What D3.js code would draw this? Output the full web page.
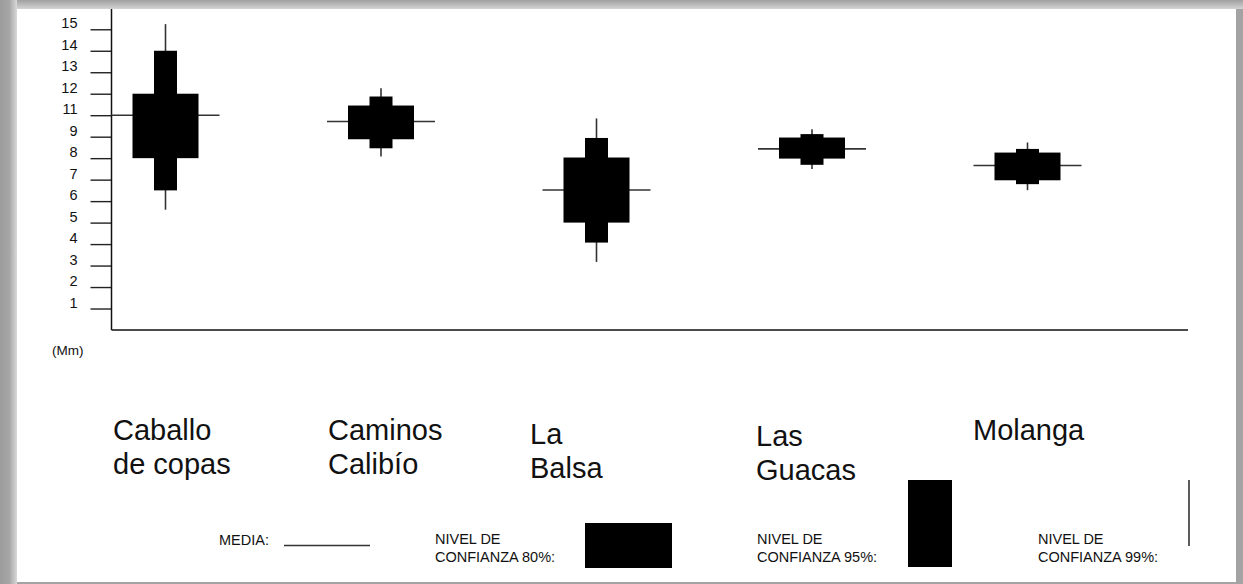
<!DOCTYPE html>
<html>
<head>
<meta charset="utf-8">
<script src="https://cdn.jsdelivr.net/npm/d3@7"></script>
<style>
  html, body { margin: 0; padding: 0; background: #ffffff; }
  svg { display: block; }
  text { font-family: "Liberation Sans", Arial, sans-serif; fill: #111; }
</style>
</head>
<body>
<svg id="chart" width="1243" height="584"></svg>
<script>
// Sitios muestreados (dos líneas por etiqueta)
const categories = ["Caballo de copas", "Caminos Calibío", "La Balsa", "Las Guacas", "Molanga"];
const categoryLines = [["Caballo", "de copas"], ["Caminos", "Calibío"], ["La", "Balsa"], ["Las", "Guacas"], ["Molanga"]];

// Media e intervalos de confianza (Mm)
const media    = [11.0, 10.42, 6.52, 8.43, 7.66];
const ic80Low  = [8.0, 8.88, 5.0, 7.98, 6.97];
const ic80High = [12.0, 11.45, 8.03, 8.96, 8.26];
const ic95Low  = [6.5, 8.46, 4.07, 7.69, 6.79];
const ic95High = [14.0, 11.87, 8.94, 9.24, 8.43];
const ic99Low  = [5.6, 8.08, 3.17, 7.5, 6.51];
const ic99High = [15.24, 12.26, 10.7, 9.7, 8.73];

// Marcas del eje vertical
const tickLabels = [1, 2, 3, 4, 5, 6, 7, 8, 9, 11, 12, 13, 14, 15];

// Leyenda
const legendItems = [
  { lines: ["MEDIA:"], kind: "media" },
  { lines: ["NIVEL DE", "CONFIANZA 80%:"], kind: "ic80" },
  { lines: ["NIVEL DE", "CONFIANZA 95%:"], kind: "ic95" },
  { lines: ["NIVEL DE", "CONFIANZA 99%:"], kind: "ic99" }
];

const svg = d3.select("#chart");
const W = 1243, H = 584;

// Page frame with a soft grey shadow on the left, top and right
const defs = svg.append("defs");
const gl = defs.append("linearGradient").attr("id", "shadeLeft").attr("x1", 0).attr("x2", 1).attr("y1", 0).attr("y2", 0);
gl.append("stop").attr("offset", "0%").attr("stop-color", "#9c9c9c");
gl.append("stop").attr("offset", "55%").attr("stop-color", "#a6a6a6");
gl.append("stop").attr("offset", "100%").attr("stop-color", "#d9d9d9");
const gt = defs.append("linearGradient").attr("id", "shadeTop").attr("x1", 0).attr("x2", 0).attr("y1", 0).attr("y2", 1);
gt.append("stop").attr("offset", "0%").attr("stop-color", "#a0a0a0");
gt.append("stop").attr("offset", "100%").attr("stop-color", "#d4d4d4");

svg.append("rect").attr("width", W).attr("height", H).attr("fill", "#a3a3a3");
svg.append("rect").attr("x", 0).attr("y", 0).attr("width", W).attr("height", 9).attr("fill", "url(#shadeTop)");
svg.append("rect").attr("x", 0).attr("y", 0).attr("width", 17).attr("height", H).attr("fill", "url(#shadeLeft)");
svg.append("rect").attr("x", 17).attr("y", 9).attr("width", 1219).attr("height", 573).attr("fill", "#ffffff");

// Scales
const plotLeft = 111.5, plotRight = 1188, plotBottom = 330, step = 21.48;
const x = d3.scalePoint().domain(categories).range([165.5, 1027.5]);
// The axis skips 10: ticks are evenly spaced and "11" sits at the tenth slot
const y = d3.scaleLinear()
  .domain([0, 9, 11, 15])
  .range([plotBottom, plotBottom - 9 * step, plotBottom - 10 * step, plotBottom - 14 * step]);

// Y axis
const yAxis = d3.axisLeft(y).tickValues(tickLabels).tickFormat(d3.format("d")).tickSize(21).tickPadding(13);
const gy = svg.append("g").attr("transform", `translate(${plotLeft},0)`).call(yAxis);
gy.select(".domain").remove();
gy.selectAll(".tick line").attr("stroke", "#222").attr("stroke-width", 1.4);
gy.selectAll(".tick text")
  .attr("font-size", 14.5)
  .attr("font-family", "Liberation Sans, Arial, sans-serif")
  .attr("fill", "#222")
  .attr("dy", "-0.1em");
svg.append("line").attr("x1", plotLeft).attr("x2", plotLeft).attr("y1", 9).attr("y2", plotBottom)
  .attr("stroke", "#111").attr("stroke-width", 1.5);

// X axis (baseline only)
svg.append("line").attr("x1", plotLeft).attr("x2", plotRight).attr("y1", plotBottom).attr("y2", plotBottom)
  .attr("stroke", "#111").attr("stroke-width", 1.6);

svg.append("text").attr("x", 52).attr("y", 355).attr("font-size", 13.5).attr("fill", "#222").text("(Mm)");

// Glyphs: 99% line, 95% narrow box, 80% wide box, mean line
const rows = categories.map((c, i) => ({
  c, media: media[i],
  l80: ic80Low[i], h80: ic80High[i],
  l95: ic95Low[i], h95: ic95High[i],
  l99: ic99Low[i], h99: ic99High[i]
}));
const w80 = 66, w95 = 23, halfMean = 54;

const g = svg.append("g");
g.selectAll("line.ic99").data(rows).join("line").attr("class", "ic99")
  .attr("x1", d => x(d.c)).attr("x2", d => x(d.c))
  .attr("y1", d => y(d.h99)).attr("y2", d => y(d.l99))
  .attr("stroke", "#333").attr("stroke-width", 1.6);
g.selectAll("line.media").data(rows).join("line").attr("class", "media")
  .attr("x1", d => x(d.c) - halfMean).attr("x2", d => x(d.c) + halfMean)
  .attr("y1", d => y(d.media)).attr("y2", d => y(d.media))
  .attr("stroke", "#333").attr("stroke-width", 1.6);
g.selectAll("rect.ic95").data(rows).join("rect").attr("class", "ic95")
  .attr("x", d => x(d.c) - w95 / 2).attr("width", w95)
  .attr("y", d => y(d.h95)).attr("height", d => y(d.l95) - y(d.h95))
  .attr("fill", "#000");
g.selectAll("rect.ic80").data(rows).join("rect").attr("class", "ic80")
  .attr("x", d => x(d.c) - w80 / 2).attr("width", w80)
  .attr("y", d => y(d.h80)).attr("height", d => y(d.l80) - y(d.h80))
  .attr("fill", "#000");

// Category labels below the chart
const labelX = [113, 328, 530, 756, 973];
const labelY = [440, 440, 444, 446, 440];
const lab = svg.append("g").selectAll("text").data(categoryLines).join("text")
  .attr("x", (d, i) => labelX[i]).attr("y", (d, i) => labelY[i])
  .attr("font-size", 29).attr("fill", "#111");
lab.selectAll("tspan").data(d => d).join("tspan")
  .attr("x", function () { return d3.select(this.parentNode).attr("x"); })
  .attr("dy", (d, j) => j === 0 ? 0 : 34)
  .text(d => d);

// Legend
const legX = [219, 435, 757, 1038];
const leg = svg.append("g");
legendItems.forEach((item, i) => {
  const t = leg.append("text").attr("x", legX[i]).attr("y", item.lines.length === 1 ? 545 : 544)
    .attr("font-size", 14.5).attr("fill", "#222");
  item.lines.forEach((ln, j) => t.append("tspan").attr("x", legX[i]).attr("dy", j === 0 ? 0 : 18).text(ln));
});
leg.append("line").attr("x1", 284).attr("x2", 370).attr("y1", 545.5).attr("y2", 545.5).attr("stroke", "#333").attr("stroke-width", 1.5);
leg.append("rect").attr("x", 585).attr("y", 523).attr("width", 87).attr("height", 45).attr("fill", "#000");
leg.append("rect").attr("x", 908).attr("y", 480).attr("width", 44).attr("height", 87).attr("fill", "#000");
leg.append("line").attr("x1", 1189).attr("x2", 1189).attr("y1", 480).attr("y2", 546).attr("stroke", "#333").attr("stroke-width", 1.6);
</script>
</body>
</html>
